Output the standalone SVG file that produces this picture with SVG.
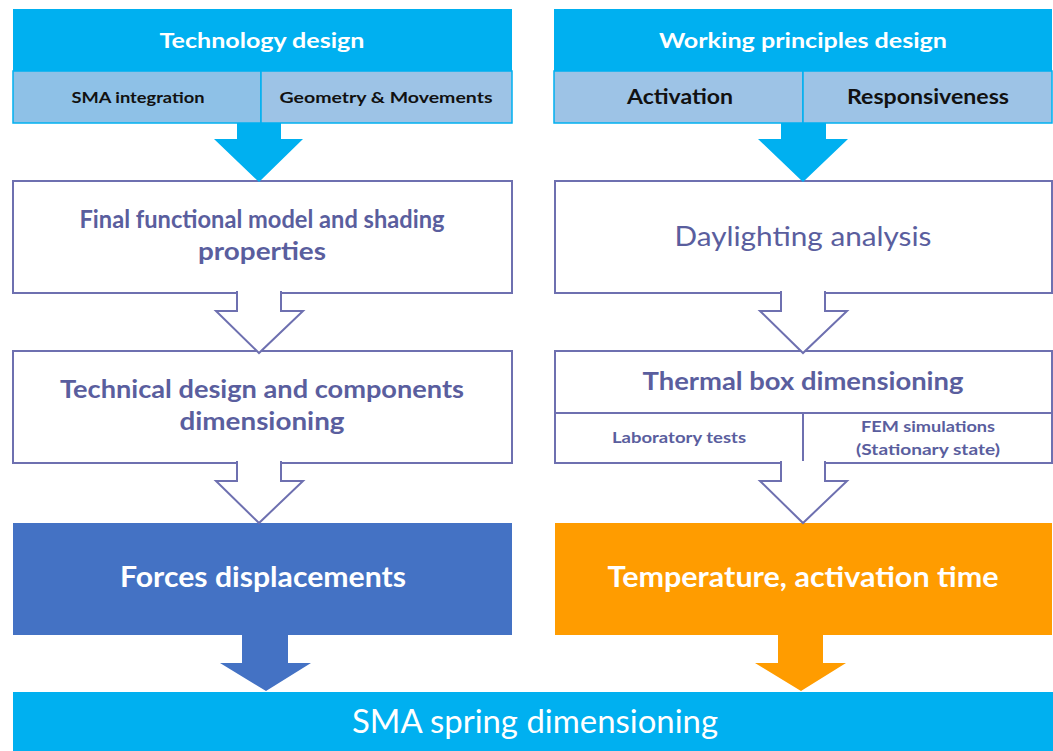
<svg xmlns="http://www.w3.org/2000/svg" width="1053" height="751" viewBox="0 0 1053 751">
<style>
.hdr{fill:#00B0F0}
.sub{fill:#9DC3E6;stroke:#00B0F0;stroke-width:1.5}
.box{fill:#fff;stroke:#6E70B0;stroke-width:2}
.oa{fill:#fff;stroke:#6E70B0;stroke-width:2;stroke-linejoin:miter}
text{font-family:Lato,"Open Sans","Liberation Sans",sans-serif;text-anchor:middle}
.wt{fill:#fff;font-weight:bold;font-size:21px}
.bk{fill:#111;font-weight:bold}
.pt{fill:#5A5E9E;font-weight:bold;font-size:24px}
</style>
<rect width="1053" height="751" fill="#fff"/>
<g id="tech-design">
<rect class="hdr" x="13" y="9" width="499" height="62"/>
<text class="wt" x="262" y="48" textLength="205" lengthAdjust="spacingAndGlyphs">Technology design</text>
</g>
<g id="sma-integration">
<rect class="sub" x="13" y="71" width="248" height="52" style="fill:#8EC1E7"/>
<text class="bk" x="138" y="103" font-size="16" textLength="133" lengthAdjust="spacingAndGlyphs">SMA integration</text>
</g>
<g id="geometry">
<rect class="sub" x="261" y="71" width="251" height="52"/>
<text class="bk" x="386" y="103" font-size="16" textLength="213" lengthAdjust="spacingAndGlyphs">Geometry &amp; Movements</text>
</g>
<g id="working-design">
<rect class="hdr" x="554" y="9" width="498" height="62"/>
<text class="wt" x="803" y="48" textLength="288" lengthAdjust="spacingAndGlyphs">Working principles design</text>
</g>
<g id="activation">
<rect class="sub" x="554" y="71" width="249" height="52"/>
<text class="bk" x="680" y="104" font-size="20" textLength="106" lengthAdjust="spacingAndGlyphs">Activation</text>
</g>
<g id="responsiveness">
<rect class="sub" x="803" y="71" width="249" height="52"/>
<text class="bk" x="928" y="104" font-size="20" textLength="162" lengthAdjust="spacingAndGlyphs">Responsiveness</text>
</g>
<g id="final-model">
<rect class="box" x="13" y="181" width="499" height="112"/>
<text class="pt" x="262" y="228" textLength="365" lengthAdjust="spacingAndGlyphs">Final functional model and shading</text>
<text class="pt" x="262" y="260" textLength="128" lengthAdjust="spacingAndGlyphs">properties</text>
</g>
<g id="daylighting">
<rect class="box" x="555" y="181" width="497" height="112"/>
<text x="803" y="246" font-size="26" fill="#5A5E9E" textLength="257" lengthAdjust="spacingAndGlyphs">Daylighting analysis</text>
</g>
<g id="technical-design">
<rect class="box" x="13" y="351" width="499" height="112"/>
<text class="pt" x="262" y="398" textLength="404" lengthAdjust="spacingAndGlyphs">Technical design and components</text>
<text class="pt" x="262" y="430" textLength="165" lengthAdjust="spacingAndGlyphs">dimensioning</text>
</g>
<g id="thermal-box">
<rect class="box" x="555" y="351" width="497" height="112"/>
<line x1="555" y1="413" x2="1052" y2="413" stroke="#6E70B0" stroke-width="2"/>
<line x1="803" y1="413" x2="803" y2="463" stroke="#6E70B0" stroke-width="2"/>
<text class="pt" x="803" y="390" textLength="321" lengthAdjust="spacingAndGlyphs">Thermal box dimensioning</text>
<text x="679" y="443" font-size="15" font-weight="bold" fill="#5A5E9E" textLength="134" lengthAdjust="spacingAndGlyphs">Laboratory tests</text>
<text x="928" y="432" font-size="15" font-weight="bold" fill="#5A5E9E" textLength="134" lengthAdjust="spacingAndGlyphs">FEM simulations</text>
<text x="928" y="455" font-size="15" font-weight="bold" fill="#5A5E9E" textLength="144" lengthAdjust="spacingAndGlyphs">(Stationary state)</text>
</g>
<g id="forces">
<rect x="13" y="523" width="499" height="112" fill="#4472C4"/>
<text class="wt" x="263" y="587" font-size="28" style="font-size:28px" textLength="286" lengthAdjust="spacingAndGlyphs">Forces displacements</text>
</g>
<g id="temperature">
<rect x="555" y="523" width="497" height="112" fill="#FF9C00"/>
<text class="wt" x="803" y="587" style="font-size:28px" textLength="391" lengthAdjust="spacingAndGlyphs">Temperature, activation time</text>
</g>
<g id="sma-spring">
<rect x="13" y="692" width="1040" height="59" fill="#00B0F0"/>
<text x="535" y="733" font-size="32" fill="#fff" textLength="366" lengthAdjust="spacingAndGlyphs">SMA spring dimensioning</text>
</g>
<g id="connectors">
<polygon fill="#00B0F0" points="237,123 281,123 281,139 303,139 259,182 214,139 237,139"/>
<polygon fill="#00B0F0" points="781,123 826,123 826,139 848,139 803,182 758,139 781,139"/>
<path class="oa" d="M237,291 V311 H216 L259,353 L303,311 H281 V291"/>
<path class="oa" d="M781,291 V311 H760 L803,353 L847,311 H825 V291"/>
<path class="oa" d="M237,461 V481 H216 L259,523 L303,481 H281 V461"/>
<path class="oa" d="M781,461 V481 H760 L803,523 L847,481 H825 V461"/>
<polygon fill="#4472C4" points="242,635 288,635 288,663 311,663 266,691 220,663 242,663"/>
<polygon fill="#FF9C00" points="778,635 823,635 823,663 846,663 801,691 755,663 778,663"/>
</g>
</svg>
